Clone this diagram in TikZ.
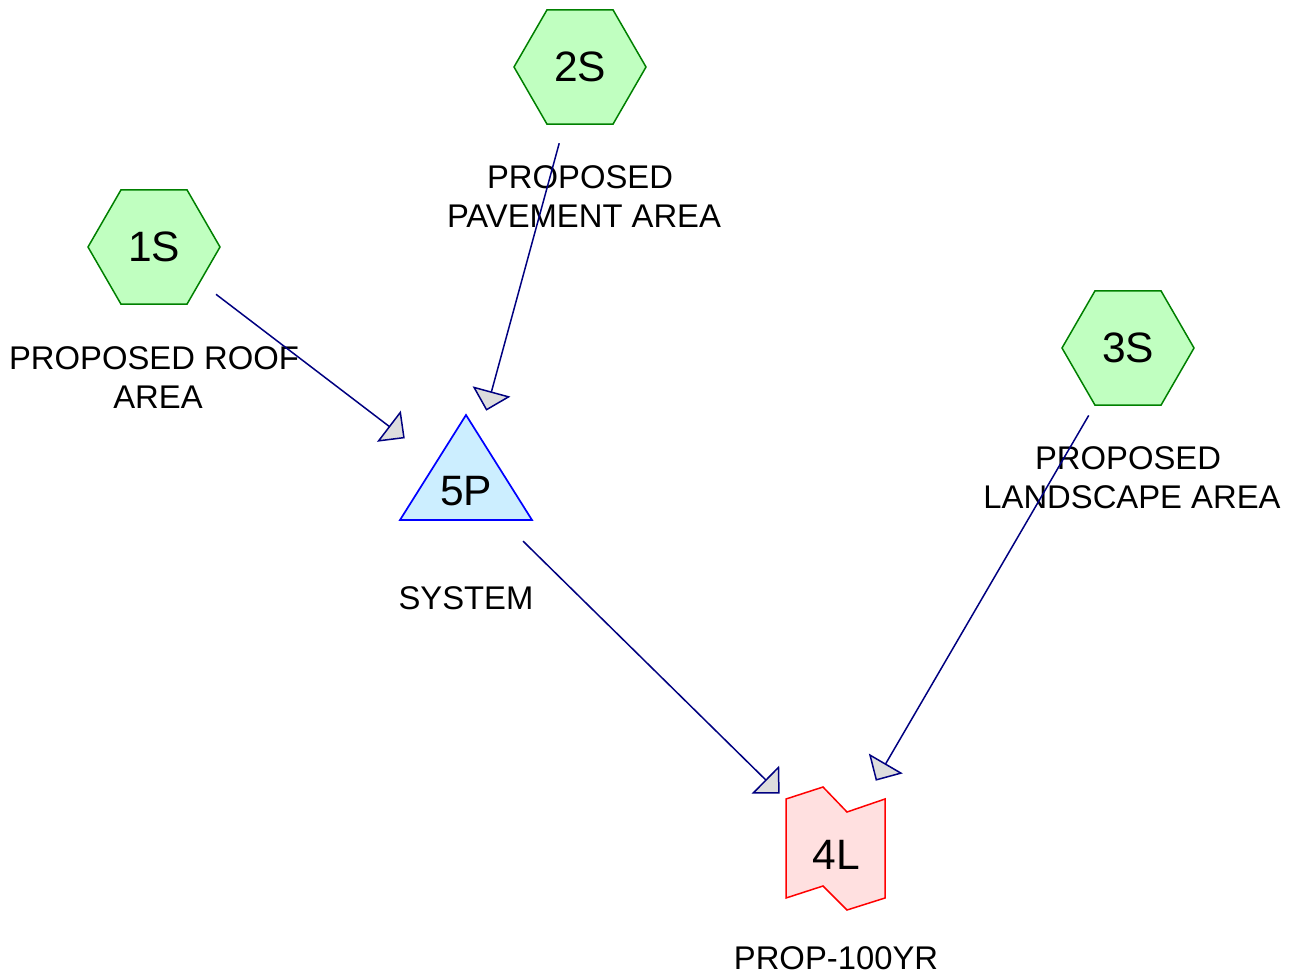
\documentclass[tikz,border=0pt]{standalone}
\usepackage{fontspec}
\setmainfont{Liberation Sans}
\usetikzlibrary{arrows.meta,shapes.geometric}
\definecolor{hexfill}{HTML}{C0FFC0}
\definecolor{hexdraw}{HTML}{008000}
\definecolor{trifill}{HTML}{CCEEFF}
\definecolor{tridraw}{HTML}{0000FF}
\definecolor{lfill}{HTML}{FFE0E0}
\definecolor{ldraw}{HTML}{FF0000}
\definecolor{linkc}{HTML}{000080}
\definecolor{tipfill}{HTML}{DDDDDD}
\begin{document}
\begin{tikzpicture}[x=1pt,y=-1pt,
  hexnode/.style={regular polygon, regular polygon sides=6, minimum size=132pt,
    inner sep=0pt, draw=hexdraw, fill=hexfill, line width=1.5pt,
    font=\fontsize{42.5}{42.5}\selectfont},
  idtext/.style={font=\fontsize{42.5}{42.5}\selectfont, inner sep=0pt,
    text height=40pt, text depth=0pt},
  lbl/.style={font=\fontsize{32.8}{39}\selectfont, inner sep=0pt, anchor=base},
  link/.style={draw=linkc, line width=1.5pt,
    -{Triangle[length=20pt,width=39pt,fill=tipfill]}},
]
\useasboundingbox (0,0) rectangle (1296,977);

% source hexagons
\node[hexnode] (n2S) at (580,67) {2S};
\node[hexnode] (n1S) at (154,247) {1S};
\node[hexnode] (n3S) at (1128,348) {3S};

% pond triangle
\draw[draw=tridraw, fill=trifill, line width=1.7pt]
  (466,415) -- (532,520) -- (400,520) -- cycle;
\node[idtext] (n5P) at (466,485) {5P};

% link shape
\draw[draw=ldraw, fill=lfill, line width=1.5pt]
  (786,799) -- (823,787) -- (847,812) -- (885,799) -- (885,898)
  -- (847,910) -- (823,886) -- (786,898) -- cycle;
\node[idtext] (n4L) at (836,849) {4L};

% labels
\node[lbl] (l2Sa) at (580,188) {PROPOSED};
\node[lbl] (l2Sb) at (584,227) {PAVEMENT AREA};
\node[lbl] (l1Sa) at (154,369) {PROPOSED ROOF};
\node[lbl] (l1Sb) at (158,408) {AREA};
\node[lbl] (l3Sa) at (1128,469) {PROPOSED};
\node[lbl] (l3Sb) at (1132,508) {LANDSCAPE AREA};
\node[lbl] (l5P) at (466,609) {SYSTEM};
\node[lbl] (l4L) at (836,969) {PROP-100YR};

% connectors
\draw[link, shorten <=78pt, shorten >=77pt] (n1S.center) -- (n5P.center);
\draw[link, shorten <=79pt, shorten >=77pt] (n2S.center) -- (n5P.center);
\draw[link, shorten <=80pt, shorten >=79pt] (n5P.center) -- (n4L.center);
\draw[link, shorten <=78pt, shorten >=79pt] (n3S.center) -- (n4L.center);
\end{tikzpicture}
\end{document}
